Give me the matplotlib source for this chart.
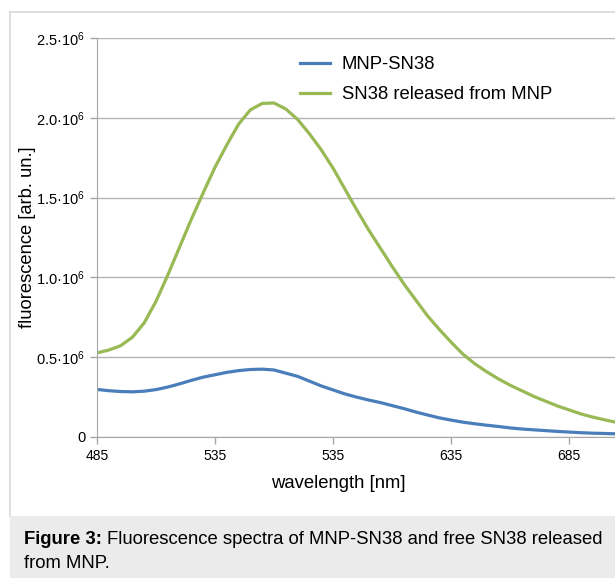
import numpy as np
import matplotlib
matplotlib.use('Agg')
import matplotlib.pyplot as plt
from matplotlib.lines import Line2D
from matplotlib.patches import Rectangle

plt.rcParams['font.family'] = ['Liberation Sans', 'DejaVu Sans']
plt.rcParams['mathtext.fontset'] = 'custom'
plt.rcParams['mathtext.rm'] = 'Liberation Sans'

# wavelength [nm], fluorescence in units of 1e6
wl = np.arange(485, 706, 5)
mnp_sn38 = [0.298, 0.290, 0.285, 0.283, 0.287, 0.297, 0.313, 0.333, 0.355, 0.375,
            0.390, 0.405, 0.416, 0.423, 0.425, 0.420, 0.400, 0.380, 0.350, 0.320,
            0.295, 0.270, 0.250, 0.232, 0.216, 0.197, 0.178, 0.157, 0.138, 0.120,
            0.106, 0.093, 0.083, 0.074, 0.066, 0.057, 0.050, 0.045, 0.040, 0.035,
            0.031, 0.027, 0.024, 0.022, 0.020]
sn38_released = [0.527, 0.545, 0.572, 0.625, 0.715, 0.850, 1.015, 1.190, 1.365, 1.530,
                 1.690, 1.830, 1.960, 2.050, 2.090, 2.093, 2.055, 1.990, 1.900, 1.800,
                 1.685, 1.555, 1.425, 1.300, 1.185, 1.070, 0.960, 0.860, 0.760, 0.675,
                 0.595, 0.520, 0.460, 0.410, 0.365, 0.325, 0.290, 0.255, 0.225, 0.195,
                 0.170, 0.145, 0.125, 0.108, 0.092]

xticks = [485, 535, 585, 635, 685]
xticklabels = ['485', '535', '535', '635', '685']
yticks = [0, 0.5e6, 1.0e6, 1.5e6, 2.0e6, 2.5e6]
yticklabels = ['0', r'$\mathregular{0.5·10^6}$', r'$\mathregular{1.0·10^6}$',
               r'$\mathregular{1.5·10^6}$', r'$\mathregular{2.0·10^6}$',
               r'$\mathregular{2.5·10^6}$']

W, H = 615, 578
fig = plt.figure(figsize=(W/100, H/100), dpi=100)

# caption band and panel border
fig.patches.append(Rectangle((10/W, 0), 1 - 10/W, 62/H, transform=fig.transFigure,
                             facecolor='#ebebeb', edgecolor='none'))
fig.lines.append(Line2D([10/W, 10/W], [62/H, 1 - 12/H], transform=fig.transFigure,
                        color='#d9d9d9', lw=1.2))
fig.lines.append(Line2D([10/W, 1], [1 - 12/H, 1 - 12/H], transform=fig.transFigure,
                        color='#d9d9d9', lw=1.2))

ax = fig.add_axes([97/W, 141/H, 518/W, 399/H])
ax.plot(wl, np.array(mnp_sn38)*1e6, color='#4a7ebb', lw=2.3, label='MNP-SN38')
ax.plot(wl, np.array(sn38_released)*1e6, color='#98b954', lw=2.3,
        label='SN38 released from MNP')

ax.set_xlim(485, 704.5)
ax.set_ylim(0, 2.5e6)
ax.set_xticks(xticks)
ax.set_xticklabels(xticklabels, fontsize=10)
ax.set_yticks(yticks)
ax.set_yticklabels(yticklabels, fontsize=10.5)
ax.yaxis.grid(True, color='#b4b4b4', lw=1)
ax.set_axisbelow(True)
for s in ['top', 'right']:
    ax.spines[s].set_visible(False)
for s in ['left', 'bottom']:
    ax.spines[s].set_color('#a6a6a6')
ax.tick_params(axis='both', colors='#a6a6a6', labelcolor='black', length=5, width=1)
ax.tick_params(axis='x', pad=4)

leg = ax.legend(loc='upper left', bbox_to_anchor=((300-97)/518, (437-56)/399),
                frameon=False, fontsize=13.3, handlelength=1.65, handletextpad=0.6,
                labelspacing=0.72, borderpad=0, borderaxespad=0)

fig.text(28/W, 1 - 237/H, 'fluorescence [arb. un.]', rotation=90, fontsize=13.2,
         ha='center', va='center')
fig.text(338/W, 1 - 483/H, 'wavelength [nm]', fontsize=13.3, ha='center', va='center')

# caption with bold lead
cap_fs = 13.3
t1 = fig.text(24/W, 1 - 540/H, 'Figure 3:', fontsize=cap_fs, fontweight='bold',
              ha='left', va='center')
fig.canvas.draw()
bb = t1.get_window_extent()
fig.text((bb.x1 + 5)/W, 1 - 540/H,
         'Fluorescence spectra of MNP-SN38 and free SN38 released',
         fontsize=cap_fs, ha='left', va='center')
fig.text(24/W, 1 - 563/H, 'from MNP.', fontsize=cap_fs, ha='left', va='center')

fig.savefig('out.png', dpi=100)
